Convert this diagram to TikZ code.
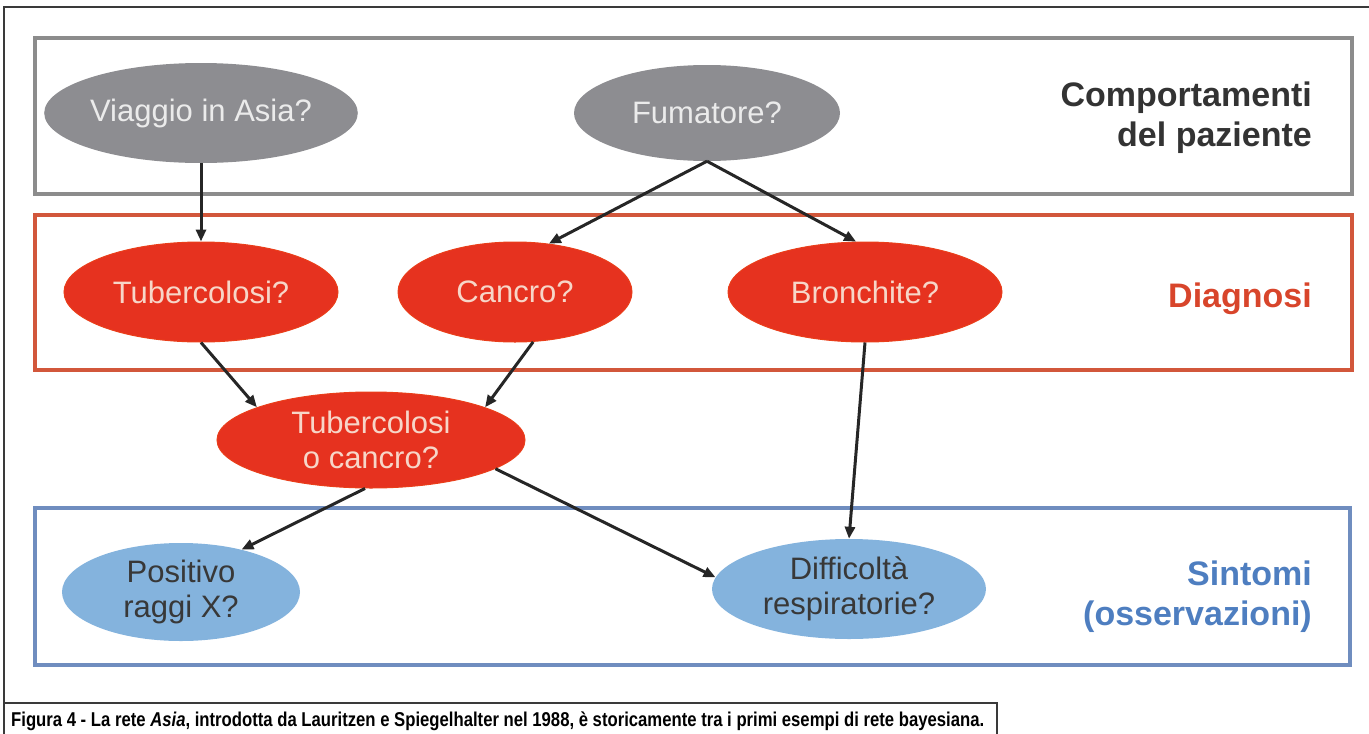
\documentclass[tikz,border=0pt]{standalone}
\usepackage{fontspec}
\setmainfont{Liberation Sans}
\newfontfamily\capfont{Liberation Sans}
\usetikzlibrary{shapes.geometric,arrows.meta}

\definecolor{frameline}{HTML}{3A3A3A}
\definecolor{grpgray}{HTML}{8C8C8C}
\definecolor{grpred}{HTML}{D2573B}
\definecolor{grpblue}{HTML}{6F8DBF}
\definecolor{nodegray}{HTML}{8D8D91}
\definecolor{nodered}{HTML}{E6321F}
\definecolor{nodeblue}{HTML}{84B3DD}
\definecolor{txtgray}{HTML}{EBEBEB}
\definecolor{txtred}{HTML}{F7D6C8}
\definecolor{txtblue}{HTML}{383838}
\definecolor{lblgray}{HTML}{333333}
\definecolor{lblred}{HTML}{D8452B}
\definecolor{lblblue}{HTML}{4E7EC0}
\definecolor{edgecol}{HTML}{262626}

\newsavebox\capbox
\newlength\capwidth

\tikzset{
  var/.style={ellipse, inner sep=0pt, align=center,
              font=\fontsize{31}{35}\selectfont},
  gvar/.style={var, fill=nodegray, text=txtgray},
  rvar/.style={var, fill=nodered, draw=nodered!85!orange, line width=1pt, text=txtred},
  bvar/.style={var, fill=nodeblue, text=txtblue},
  grpbox/.style={line width=3.2pt},
  grplabel/.style={inner sep=0pt, align=right,
                   font=\fontsize{34}{40}\selectfont\bfseries},
  edge/.style={line width=3pt, draw=edgecol,
               -{Triangle[length=12pt,width=10pt]}},
  frame/.style={line width=1.8pt, draw=frameline}
}

\begin{document}
% caption text, squeezed horizontally to the width of its box
\sbox\capbox{\capfont\fontsize{20}{22}\selectfont\bfseries Figura 4 - La rete \textit{Asia}, introdotta da Lauritzen e Spiegelhalter nel 1988, \`e storicamente tra i primi esempi di rete bayesiana.}%
\setlength\capwidth{\wd\capbox}%
\pgfmathsetmacro{\capscale}{973/\capwidth}%
\begin{tikzpicture}[x=1pt, y=-1pt]
  \useasboundingbox (0,0) rectangle (1369,734);

  % outer frame and caption box
  \draw[frame] (1369,7) -- (4,7) -- (4,734);
  \draw[frame] (4,703) -- (997,703) -- (997,734);

  % group boxes
  \draw[grpbox, draw=grpgray] (35,38)  rectangle (1352,194);
  \draw[grpbox, draw=grpred]  (35,215) rectangle (1352,370);
  \draw[grpbox, draw=grpblue] (35,508) rectangle (1350,665);

  % group labels
  \node[grplabel, text=lblgray, anchor=north east] (lbehav) at (1312,82)
       {Comportamenti\\del paziente};
  \node[grplabel, text=lblred, anchor=base east] (ldiag) at (1312,307)
       {Diagnosi};
  \node[grplabel, text=lblblue, anchor=north east] (lsympt) at (1312,561)
       {Sintomi\\(osservazioni)};

  % variables
  \node[gvar, minimum width=310pt, minimum height=100pt] (asia) at (201,113) {Viaggio in Asia?};
  \node[gvar, minimum width=266pt, minimum height=96pt]  (smoke) at (707,113) {Fumatore?};

  \node[rvar, minimum width=274pt, minimum height=100pt] (tub)  at (201,292) {Tubercolosi?};
  \node[rvar, minimum width=234pt, minimum height=100pt] (canc) at (515,292) {Cancro?};
  \node[rvar, minimum width=274pt, minimum height=100pt] (bron) at (865,292) {Bronchite?};

  \node[rvar, minimum width=308pt, minimum height=96pt] (either) at (371,440) {Tubercolosi\\o cancro?};

  \node[bvar, minimum width=238pt, minimum height=98pt]  (xray) at (181,592) {Positivo\\raggi X?};
  \node[bvar, minimum width=274pt, minimum height=100pt] (dysp) at (849,589) {Difficolt\`a\\respiratorie?};

  % dependencies
  \draw[edge] (asia.south) -- (tub.north);
  \draw[edge] (smoke.south) -- (canc.55);
  \draw[edge] (smoke.south) -- (bron.100);
  \draw[edge] (tub.south) -- (either.164);
  \draw[edge] (canc.-70) -- (either.16);
  \draw[edge] (either.-97) -- (xray.35);
  \draw[edge] (either.-13) -- (dysp.175);
  \draw[edge] (bron.south) -- (dysp.north);

  % caption
  \node[anchor=base west, inner sep=0pt, text=black!88] (caption) at (11,726)
       {\scalebox{\capscale}[1]{\usebox\capbox}};
\end{tikzpicture}
\end{document}
